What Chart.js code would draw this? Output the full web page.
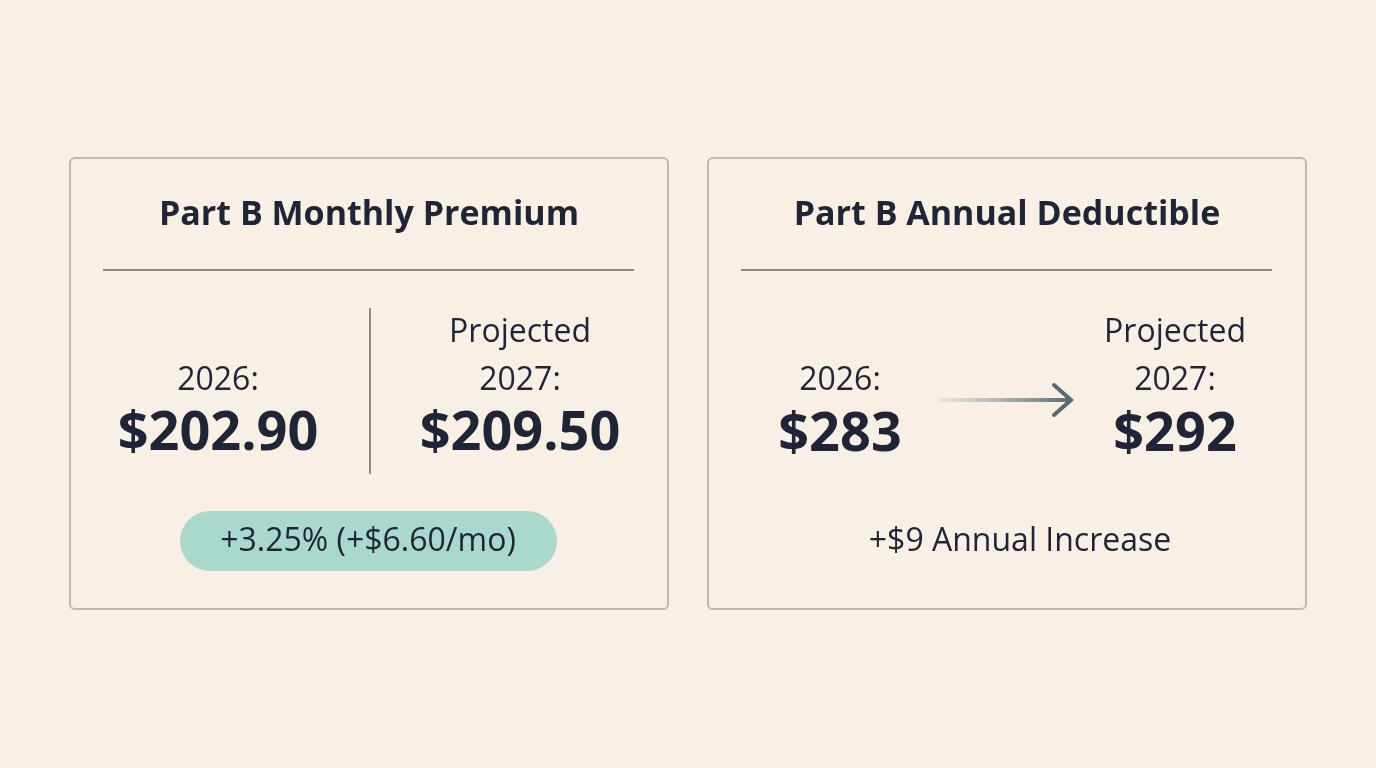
<!DOCTYPE html>
<html>
<head>
<meta charset="utf-8">
<script src="https://cdn.jsdelivr.net/npm/chart.js@4.4.0/dist/chart.umd.min.js"></script>
<style>
  html, body { margin: 0; padding: 0; background: #f8efe5; }
  canvas { display: block; }
</style>
</head>
<body>
<canvas id="c" width="1376" height="768"></canvas>
<script>
// --- Data ---
const cardTitles = ['Part B Monthly Premium', 'Part B Annual Deductible'];
const years = ['2026:', '2027:'];
const premiumValues = ['$202.90', '$209.50'];
const deductibleValues = ['$283', '$292'];
const changeLabels = ['+3.25% (+$6.60/mo)', '+$9 Annual Increase'];

const FONT = '"Open Sans", "Noto Sans", sans-serif';
const INK = '#1f2536';

// draws the two cards in chart (pixel-like) coordinates
const cardsPlugin = {
  id: 'cards',
  beforeDraw(chart) {
    const { ctx } = chart;
    const sx = chart.scales.x, sy = chart.scales.y;
    const X = v => sx.getPixelForValue(v), Y = v => sy.getPixelForValue(v);

    ctx.save();
    ctx.fillStyle = '#f8efe5';
    ctx.fillRect(0, 0, chart.width, chart.height);

    const text = (s, x, y, size, weight, align = 'center') => {
      ctx.font = `${weight} ${size}px ${FONT}`;
      ctx.fillStyle = INK;
      ctx.textAlign = align;
      ctx.textBaseline = 'middle';
      ctx.fillText(s, X(x), Y(y));
    };

    [70, 708].forEach((left, i) => {
      ctx.strokeStyle = '#bdb8b3';
      ctx.lineWidth = 2;
      ctx.beginPath();
      ctx.roundRect(X(left), Y(158), 598, 451, 5);
      ctx.stroke();

      text(cardTitles[i], left + 299, 215, 34, 700);
      ctx.strokeStyle = '#8e8c8a';
      ctx.lineWidth = 2;
      ctx.beginPath();
      ctx.moveTo(X(left + 33), Y(270));
      ctx.lineTo(X(left + 564), Y(270));
      ctx.stroke();
    });

    // left card
    text(years[0], 218, 381, 32, 400);
    text(premiumValues[0], 218, 435, 54, 700);
    ctx.strokeStyle = '#8e8c8a';
    ctx.beginPath(); ctx.moveTo(X(370), Y(308)); ctx.lineTo(X(370), Y(474)); ctx.stroke();
    text('Projected', 520, 333, 32, 400);
    text(years[1], 520, 381, 32, 400);
    text(premiumValues[1], 520, 435, 54, 700);
    ctx.fillStyle = '#a9d9cc';
    ctx.beginPath(); ctx.roundRect(X(180), Y(511), 377, 60, 30); ctx.fill();
    text(changeLabels[0], 368, 542, 32, 400);

    // right card
    text(years[0], 840, 381, 32, 400);
    text(deductibleValues[0], 840, 436, 54, 700);
    const g = ctx.createLinearGradient(X(940), 0, X(1072), 0);
    g.addColorStop(0, 'rgba(110,140,140,0.1)');
    g.addColorStop(1, '#5b6a72');
    ctx.strokeStyle = g; ctx.lineWidth = 4; ctx.lineCap = 'round';
    ctx.beginPath(); ctx.moveTo(X(940), Y(400)); ctx.lineTo(X(1070), Y(400)); ctx.stroke();
    ctx.strokeStyle = '#5b6a72';
    ctx.beginPath(); ctx.moveTo(X(1054), Y(385)); ctx.lineTo(X(1071), Y(400)); ctx.lineTo(X(1054), Y(415)); ctx.stroke();
    text('Projected', 1175, 333, 32, 400);
    text(years[1], 1175, 381, 32, 400);
    text(deductibleValues[1], 1175, 436, 54, 700);
    text(changeLabels[1], 1020, 542, 32, 400);
    ctx.restore();
  }
};

new Chart(document.getElementById('c'), {
  type: 'scatter',
  data: { datasets: [{ data: [] }] },
  options: {
    responsive: false,
    animation: false,
    layout: { padding: 0 },
    scales: {
      x: { type: 'linear', min: 0, max: 1376, display: false },
      y: { type: 'linear', min: 0, max: 768, reverse: true, display: false }
    },
    plugins: { legend: { display: false }, tooltip: { enabled: false } }
  },
  plugins: [cardsPlugin]
});
</script>
</body>
</html>
